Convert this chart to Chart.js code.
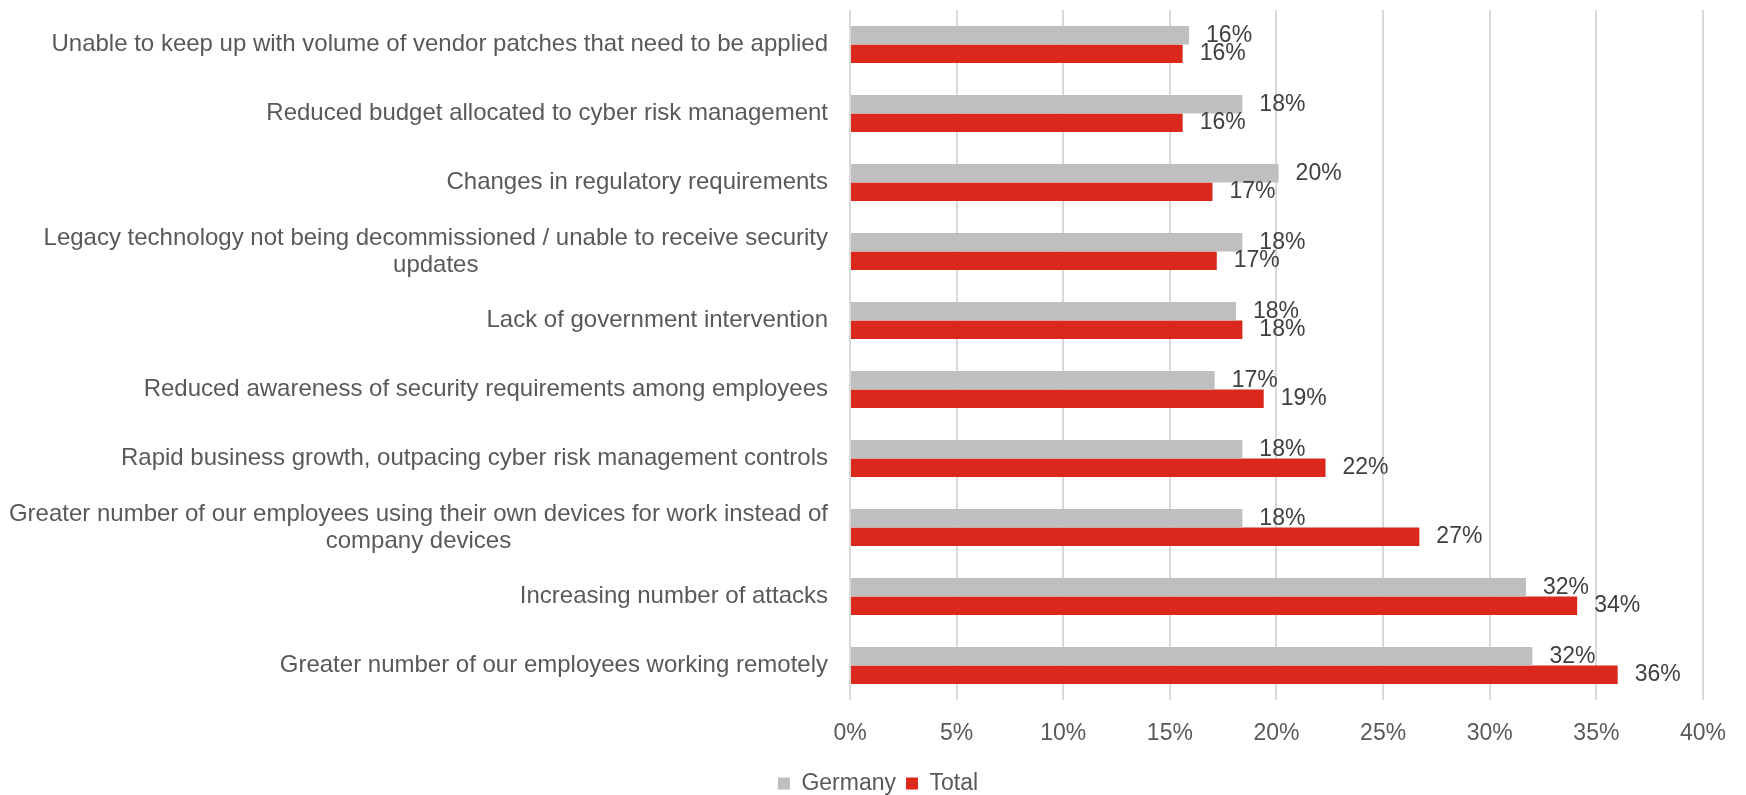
<!DOCTYPE html>
<html>
<head>
<meta charset="utf-8">
<title>Cyber risk drivers</title>
<script src="https://cdn.jsdelivr.net/npm/chart.js@4"></script>
<style>
  html, body { margin: 0; padding: 0; background: #fff; }
  #wrap { width: 1746px; height: 795px; position: relative; }
</style>
</head>
<body>
<div id="wrap"><canvas id="driversChart"></canvas></div>
<script>
'use strict';

// ============================================================
// DATA
// ============================================================
const categories = [
  'Unable to keep up with volume of vendor patches that need to be applied',
  'Reduced budget allocated to cyber risk management',
  'Changes in regulatory requirements',
  ['Legacy technology not being decommissioned / unable to receive security', 'updates'],
  'Lack of government intervention',
  'Reduced awareness of security requirements among employees',
  'Rapid business growth, outpacing cyber risk management controls',
  ['Greater number of our employees using their own devices for work instead of', 'company devices'],
  'Increasing number of attacks',
  'Greater number of our employees working remotely'
];
const germanyValues = [15.9, 18.4, 20.1, 18.4, 18.1, 17.1, 18.4, 18.4, 31.7, 32.0];
const totalValues   = [15.6, 15.6, 17.0, 17.2, 18.4, 19.4, 22.3, 26.7, 34.1, 36.0];
const xTicks = [0, 5, 10, 15, 20, 25, 30, 35, 40];

const FONT = '"Liberation Sans", Arial, sans-serif';
const GREY = '#BFBFBF';
const RED  = '#DA291C';

// ============================================================
// PLUGINS
// ============================================================
// category labels: block right-aligned, wrapped lines centred inside it
const categoryLabels = {
  id: 'categoryLabels',
  afterDraw(chart) {
    const { ctx } = chart;
    const y = chart.scales.y;
    const right = y.right - 22;
    const lineH = 27;
    ctx.save();
    ctx.font = '24px ' + FONT;
    ctx.fillStyle = '#595959';
    ctx.textBaseline = 'middle';
    categories.forEach((label, i) => {
      const lines = Array.isArray(label) ? label : [label];
      const cy = y.getPixelForValue(i);
      const widest = Math.max(...lines.map(l => ctx.measureText(l).width));
      const cx = right - widest / 2;
      ctx.textAlign = 'center';
      lines.forEach((l, k) => {
        ctx.fillText(l, cx, cy + (k - (lines.length - 1) / 2) * lineH);
      });
    });
    ctx.restore();
  }
};

// value labels just past the end of each bar
const valueLabels = {
  id: 'valueLabels',
  afterDatasetsDraw(chart) {
    const { ctx } = chart;
    ctx.save();
    ctx.font = '23px ' + FONT;
    ctx.fillStyle = '#404040';
    ctx.textAlign = 'left';
    ctx.textBaseline = 'middle';
    chart.data.datasets.forEach((ds, di) => {
      chart.getDatasetMeta(di).data.forEach((bar, i) => {
        ctx.fillText(Math.round(ds.data[i]) + '%', bar.x + 17, bar.y);
      });
    });
    ctx.restore();
  }
};

// push the legend a little further below the axis
const legendDrop = {
  id: 'legendDrop',
  afterLayout(chart) {
    const lg = chart.legend;
    if (!lg) return;
    lg.top += 16;
    lg.bottom += 16;
    lg.adjustHitBoxes();
  }
};

// ============================================================
// CHART
// ============================================================
new Chart(document.getElementById('driversChart'), {
  type: 'bar',
  data: {
    labels: categories,
    datasets: [
      { label: 'Germany', data: germanyValues, backgroundColor: GREY },
      { label: 'Total',   data: totalValues,   backgroundColor: RED }
    ]
  },
  options: {
    indexAxis: 'y',
    responsive: true,
    maintainAspectRatio: false,
    animation: false,
    datasets: { bar: { categoryPercentage: 0.535, barPercentage: 1 } },
    layout: { padding: { top: 10, right: 42, bottom: 6, left: 52 } },
    plugins: {
      tooltip: { enabled: false },
      legend: {
        position: 'bottom',
        labels: {
          boxWidth: 12, boxHeight: 12, padding: 10,
          color: '#595959', font: { family: FONT, size: 23 }
        }
      }
    },
    scales: {
      x: {
        min: 0, max: 40,
        afterBuildTicks: s => { s.ticks = xTicks.map(v => ({ value: v })); },
        afterFit: s => { s.height = 46; },
        grid: { color: '#D9D9D9', lineWidth: 2, drawTicks: false },
        border: { display: false },
        ticks: {
          padding: 20, color: '#595959',
          font: { family: FONT, size: 23 },
          callback: v => v + '%'
        }
      },
      y: {
        afterFit: s => { s.width = 798; },
        grid: { display: false },
        border: { display: false },
        ticks: { display: false }
      }
    }
  },
  plugins: [categoryLabels, valueLabels, legendDrop]
});
</script>
</body>
</html>
